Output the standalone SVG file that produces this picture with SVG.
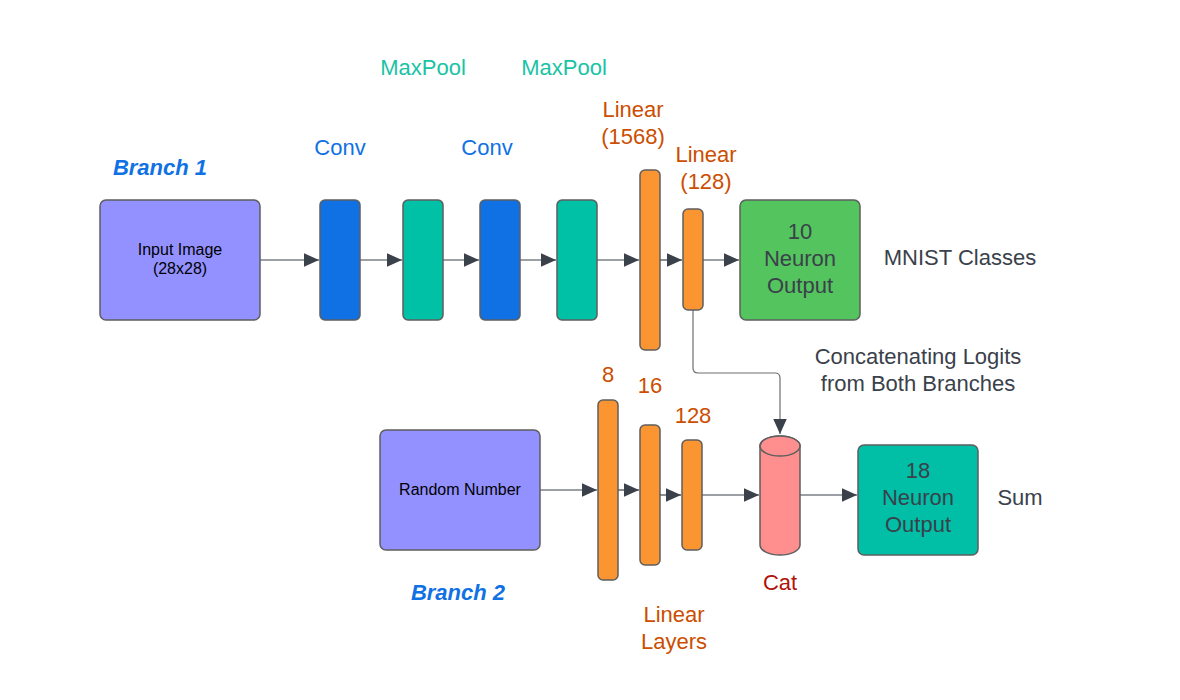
<svg xmlns="http://www.w3.org/2000/svg" width="1180" height="700" viewBox="0 0 1180 700">
<style>
text{font-family:"Liberation Sans",Arial,sans-serif;text-anchor:middle}
.box{stroke:#5E5E5E;stroke-width:1.5}
.in{fill:#9391FF}
.conv{fill:#1071E5}
.pool{fill:#00C1A6}
.lin{fill:#FA9531}
.out{fill:#54C45E}
.out2{fill:#00BFA6}
.cat{fill:#FF8F8F}
.lbl{font-size:22px}
.blue{fill:#1071E5}
.teal{fill:#19C3A5}
.org{fill:#CC4E00}
.dark{fill:#3A414A}
.red{fill:#B0120A}
.br{font-weight:bold;font-style:italic;font-size:22px;fill:#1071E5}
.conn{fill:none;stroke:#3A414A;stroke-width:1.2}
.conn2{fill:none;stroke:#6E6E6E;stroke-width:1.2}
</style>
<defs>
<marker id="ah" viewBox="0 0 10 10" refX="10" refY="5" markerWidth="15" markerHeight="15" markerUnits="userSpaceOnUse" orient="auto">
<path d="M0,0.5 L10,5 L0,9.5 z" fill="#3A414A"/>
</marker>
</defs>
<rect width="1180" height="700" fill="#FFFFFF"/>

<g id="connectors">
<path class="conn" d="M260,260 H319" marker-end="url(#ah)"/>
<path class="conn" d="M360,260 H402" marker-end="url(#ah)"/>
<path class="conn" d="M443,260 H479" marker-end="url(#ah)"/>
<path class="conn" d="M520,260 H556" marker-end="url(#ah)"/>
<path class="conn" d="M597,260 H639" marker-end="url(#ah)"/>
<path class="conn" d="M660,260 H682" marker-end="url(#ah)"/>
<path class="conn" d="M703,260 H739" marker-end="url(#ah)"/>
<path class="conn2" d="M693,310 V368 Q693,373 698,373 H775 Q780,373 780,378 V434" marker-end="url(#ah)"/>
<path class="conn" d="M540,490 H597" marker-end="url(#ah)"/>
<path class="conn" d="M618,490 H639" marker-end="url(#ah)"/>
<path class="conn" d="M660,495 H681" marker-end="url(#ah)"/>
<path class="conn" d="M702,495 H759" marker-end="url(#ah)"/>
<path class="conn" d="M800,495 H857" marker-end="url(#ah)"/>
</g>

<g id="input-image">
<rect class="box in" x="100" y="200" width="160" height="120" rx="6"/>
<text x="180" y="255" font-size="16" fill="#000">Input Image</text>
<text x="180" y="274" font-size="16" fill="#000">(28x28)</text>
</g>
<g id="conv1"><rect class="box conv" x="320" y="200" width="40" height="120" rx="5"/></g>
<g id="maxpool1"><rect class="box pool" x="403" y="200" width="40" height="120" rx="5"/></g>
<g id="conv2"><rect class="box conv" x="480" y="200" width="40" height="120" rx="5"/></g>
<g id="maxpool2"><rect class="box pool" x="557" y="200" width="40" height="120" rx="5"/></g>
<g id="linear1568"><rect class="box lin" x="640" y="170" width="20" height="180" rx="5"/></g>
<g id="linear128"><rect class="box lin" x="683" y="209" width="20" height="101" rx="5"/></g>
<g id="output10">
<rect class="box out" x="740" y="200" width="120" height="120" rx="6"/>
<text class="lbl dark" x="800" y="239">10</text>
<text class="lbl dark" x="800" y="266">Neuron</text>
<text class="lbl dark" x="800" y="293">Output</text>
</g>

<g id="random-number">
<rect class="box in" x="380" y="430" width="160" height="120" rx="6"/>
<text x="460" y="495" font-size="16" fill="#000">Random Number</text>
</g>
<g id="lin8"><rect class="box lin" x="598" y="400" width="20" height="180" rx="5"/></g>
<g id="lin16"><rect class="box lin" x="640" y="425" width="20" height="140" rx="5"/></g>
<g id="lin128b"><rect class="box lin" x="682" y="440" width="20" height="110" rx="5"/></g>
<g id="cat">
<path class="box cat" d="M760,446 V545 A20,10 0 0 0 800,545 V446 A20,10 0 0 0 760,446 Z"/>
<ellipse class="box cat" cx="780" cy="446" rx="20" ry="10"/>
</g>
<g id="output18">
<rect class="box out2" x="858" y="445" width="120" height="110" rx="6"/>
<text class="lbl dark" x="918" y="478">18</text>
<text class="lbl dark" x="918" y="505">Neuron</text>
<text class="lbl dark" x="918" y="532">Output</text>
</g>

<g id="labels">
<text class="lbl teal" x="423" y="75">MaxPool</text>
<text class="lbl teal" x="564" y="75">MaxPool</text>
<text class="lbl blue" x="340" y="155">Conv</text>
<text class="lbl blue" x="487" y="155">Conv</text>
<text class="lbl org" x="633" y="117">Linear</text>
<text class="lbl org" x="633" y="144">(1568)</text>
<text class="lbl org" x="706" y="162">Linear</text>
<text class="lbl org" x="706" y="189">(128)</text>
<text class="br" x="160" y="175">Branch 1</text>
<text class="lbl dark" x="960" y="265">MNIST Classes</text>
<text class="lbl dark" x="918" y="364">Concatenating Logits</text>
<text class="lbl dark" x="918" y="391">from Both Branches</text>
<text class="lbl org" x="608" y="382">8</text>
<text class="lbl org" x="650" y="393">16</text>
<text class="lbl org" x="693" y="423">128</text>
<text class="lbl red" x="780" y="590">Cat</text>
<text class="lbl dark" x="1020" y="505">Sum</text>
<text class="br" x="458" y="600">Branch 2</text>
<text class="lbl org" x="674" y="622">Linear</text>
<text class="lbl org" x="674" y="649">Layers</text>
</g>
</svg>
